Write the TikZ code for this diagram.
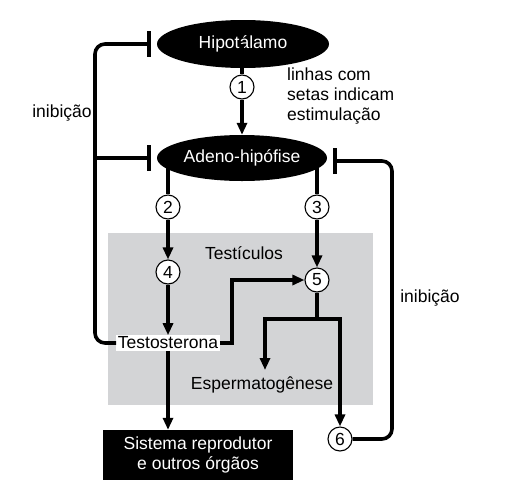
\documentclass[tikz,border=0pt]{standalone}
\usepackage{fontspec}
\setmainfont{Liberation Sans}
\usetikzlibrary{arrows.meta,shapes.geometric}
\definecolor{boxgray}{RGB}{211,212,214}
\begin{document}
\begin{tikzpicture}[x=1pt,y=-1pt,
  txt/.style={font=\fontsize{17.5}{20}\selectfont},
  organ/.style={ellipse,fill=black,text=white,inner sep=0pt,txt},
  num/.style={circle,draw=black,line width=1.1pt,fill=white,minimum size=24pt,inner sep=0pt,txt},
  link/.style={line width=3.6pt},
  stim/.style={link,-{Triangle[width=10pt,length=12pt]}},
  inhib/.style={link,-{Bar[width=26pt]},rounded corners=10pt,shorten >=6pt}]
\useasboundingbox (0,0) rectangle (508,488);
\node[fill=boxgray,minimum width=265pt,minimum height=172pt,inner sep=0pt] (testbox) at (240.5,319) {};
\node[organ,minimum width=172pt,minimum height=48pt] (hipo) at (243,44) {Hipotálamo};
\node[organ,minimum width=170pt,minimum height=46pt] (adeno) at (242,158) {Adeno-hipófise};
\node[num] (c1) at (242,87) {1};
\node[num] (c2) at (168,207) {2};
\node[num] (c3) at (317,207) {3};
\node[num] (c4) at (168,272) {4};
\node[num] (c5) at (317,280) {5};
\node[num] (c6) at (340,439) {6};
\node[txt,fill=white,inner sep=1.5pt] (testo) at (168,343) {Testosterona};
\node[txt,fill=black,text=white,align=center,minimum width=190pt,minimum height=50pt,inner sep=0pt] (sist) at (198,455) {Sistema reprodutor\\e outros órgãos};
\node[txt] (testic) at (244,253) {Testículos};
\node[txt] (esper) at (262,385) {Espermatogênese};
\node[txt,align=left,anchor=north west,inner sep=0pt] (legend) at (287,68) {linhas com\\setas indicam\\estimulação};
\node[txt] (inibL) at (62,113) {inibição};
\node[txt] (inibR) at (430,298) {inibição};
% stimulation
\draw[link] (c1 |- hipo.center) -- (c1.north);
\draw[stim] (c1.south) -- (adeno.north);
\draw[link] (c2 |- adeno.center) -- (c2.north);
\draw[link] (c3 |- adeno.center) -- (c3.north);
\draw[stim] (c2.south) -- (c4.north);
\draw[stim] (c3.south) -- (c5.north);
\draw[stim] (c4.south) -- (testo.north);
\draw[stim] (testo.south) -- (testo.south |- sist.north);
\coordinate (tturn) at (232,280);
\draw[stim] (testo.east) -| (tturn) -- (c5.west);
\coordinate (split) at (317,319);
\coordinate (esptip) at (265,370);
\draw[link] (c5.south) -- (split);
\draw[stim] (split) -| (esptip);
\draw[stim] (split) -| (c6.north);
% inhibition
\coordinate (lline) at (95,200);
\coordinate (rline) at (392,300);
\draw[inhib] (testo.west) -| (lline) |- (hipo.west);
\draw[inhib] (lline |- adeno.west) -- (adeno.west);
\draw[inhib] (c6.east) -| (rline) |- ([yshift=-3pt]adeno.east);
\end{tikzpicture}
\end{document}
